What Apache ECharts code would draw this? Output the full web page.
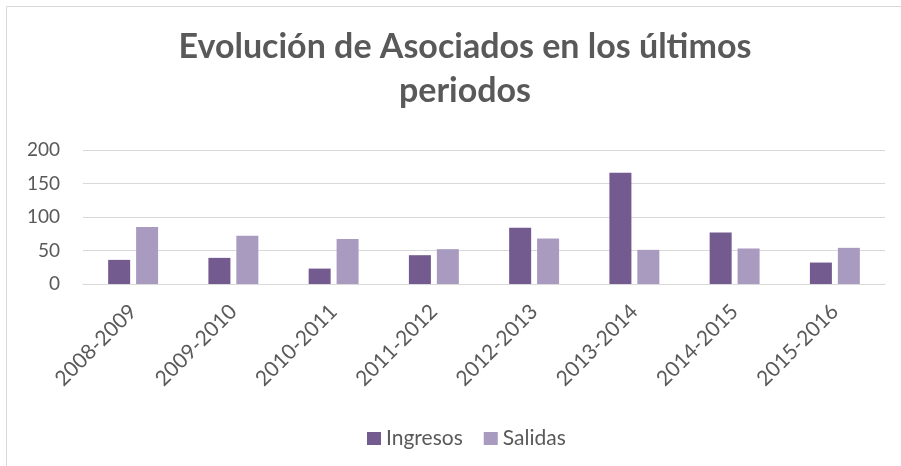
<!DOCTYPE html>
<html>
<head>
<meta charset="utf-8">
<script src="https://cdn.jsdelivr.net/npm/echarts@6/dist/echarts.min.js"></script>
<style>
  html, body { margin: 0; padding: 0; background: #fff; }
  #chart { width: 901px; height: 466px; }
</style>
</head>
<body>
<div id="chart"></div>
<script>
// datos
var periodos = ['2008-2009', '2009-2010', '2010-2011', '2011-2012', '2012-2013', '2013-2014', '2014-2015', '2015-2016'];
var ingresos = [36, 39, 23, 43, 84, 166, 77, 32];
var salidas = [85, 72, 67, 52, 68, 51, 53, 54];
var ticksY = [0, 50, 100, 150, 200];

var chart = echarts.init(document.getElementById('chart'));

var gris = '#595959';
var fuente = 'Lato';

var option = {
    animation: false,
    // marco del gráfico
    graphic: [{
        type: 'rect',
        shape: { x: 6.5, y: 6.5, width: 1000, height: 1000 },
        style: { fill: 'none', stroke: '#d9d9d9', lineWidth: 1 },
        silent: true
    }],
    title: {
        text: 'Evolución de Asociados en los últimos\nperiodos',
        left: 460,
        top: 20,
        textAlign: 'center',
        textStyle: {
            fontFamily: fuente,
            fontWeight: 'bold',
            fontSize: 34,
            lineHeight: 44,
            color: gris
        }
    },
    legend: {
        data: ['Ingresos', 'Salidas'],
        left: 362,
        top: 423,
        itemWidth: 14,
        itemHeight: 13,
        itemGap: 21,
        icon: 'rect',
        textStyle: { fontFamily: fuente, fontSize: 21, color: gris }
    },
    grid: {
        left: 83,
        right: 16,
        top: 150,
        bottom: 182,
        containLabel: false
    },
    xAxis: {
        type: 'category',
        data: periodos,
        axisLine: { lineStyle: { color: '#d9d9d9' } },
        axisTick: { show: false },
        axisLabel: {
            rotate: 45,
            margin: 24,
            interval: 0,
            fontFamily: fuente,
            fontSize: 21,
            color: gris
        }
    },
    yAxis: {
        type: 'value',
        min: ticksY[0],
        max: ticksY[ticksY.length - 1],
        interval: 50,
        axisLine: { show: false },
        axisTick: { show: false },
        splitLine: { lineStyle: { color: '#d9d9d9' } },
        axisLabel: {
            margin: 23,
            fontFamily: fuente,
            fontSize: 19,
            color: gris
        }
    },
    series: [{
        name: 'Ingresos',
        type: 'bar',
        data: ingresos,
        barWidth: 22,
        barGap: '27%',
        itemStyle: { color: '#735a8f' }
    }, {
        name: 'Salidas',
        type: 'bar',
        data: salidas,
        barWidth: 22,
        barGap: '27%',
        itemStyle: { color: '#a99abf' }
    }]
};

chart.setOption(option);
</script>
</body>
</html>
